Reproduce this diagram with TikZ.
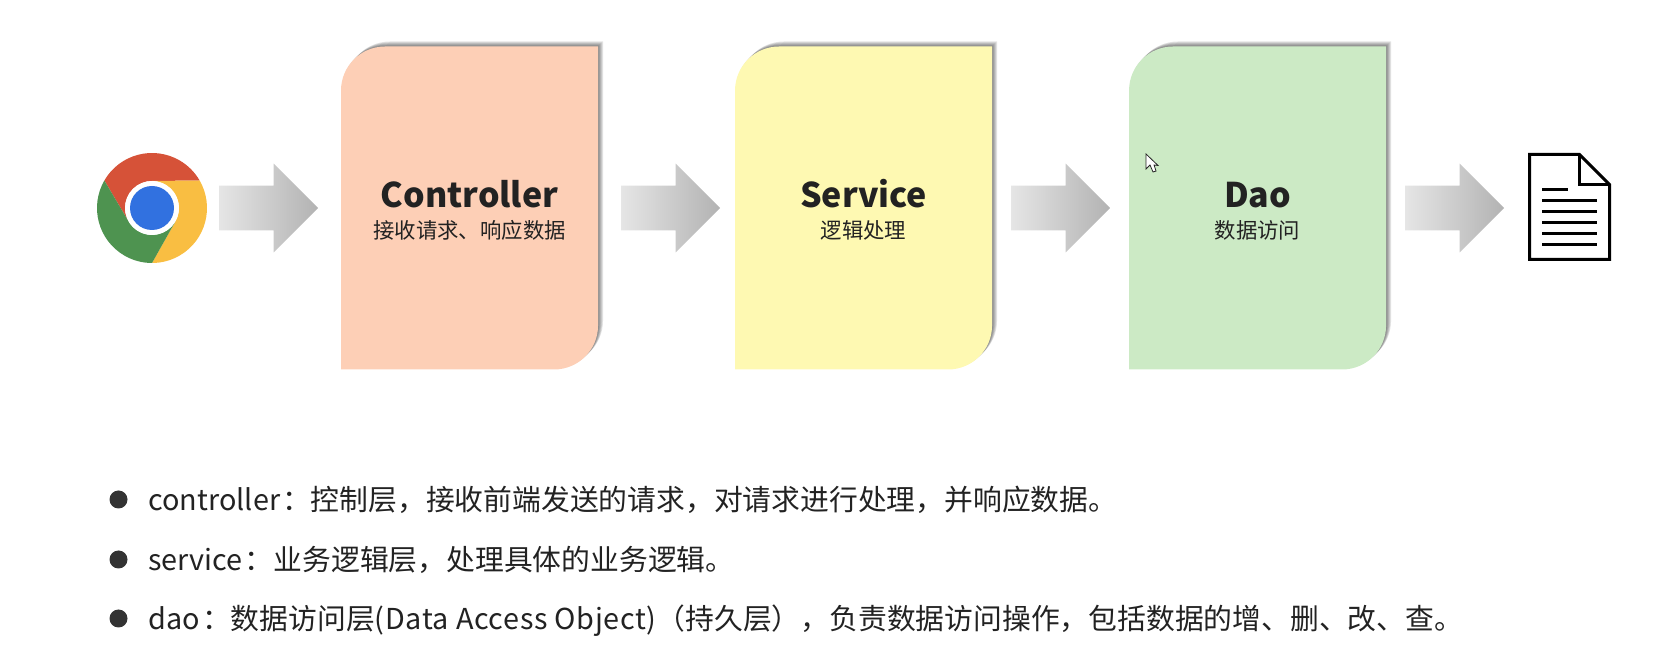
\documentclass[tikz,border=0pt]{standalone}
\usepackage{fontspec}
\setmainfont{Noto Sans CJK SC}
\usepackage{xcolor}
\usepackage{tikz}
\usetikzlibrary{shapes.arrows, positioning, calc, backgrounds}
\definecolor{ctrlfill}{RGB}{253, 207, 182}
\definecolor{servfill}{RGB}{254, 249, 178}
\definecolor{daofill}{RGB}{204, 234, 197}
\definecolor{inktext}{RGB}{34, 34, 34}
\definecolor{chromered}{RGB}{214, 82, 56}
\definecolor{chromeyellow}{RGB}{249, 190, 66}
\definecolor{chromegreen}{RGB}{78, 147, 80}
\definecolor{chromeblue}{RGB}{49, 113, 224}
\tikzset{
    layerbox/.style = {rectangle, minimum width=128.5pt, minimum height=161.5pt, inner sep=0pt, outer sep=0pt},
    blockarrow/.style = {single arrow, single arrow tip angle=90, single arrow head extend=11pt, single arrow head indent=0pt, minimum height=49.5pt, inner xsep=0pt, inner ysep=11pt, outer sep=0pt, left color=black!10, right color=black!30, draw=none},
    bulletdot/.style = {circle, fill=black!80, minimum size=9pt, inner sep=0pt, outer sep=0pt},
    bullettext/.style = {font=\fontsize{14.4pt}{17pt}\selectfont, text=inktext, inner sep=0pt, outer sep=0pt, text height=11pt, text depth=3pt, yshift=-1.5pt},
    docline/.style = {line width=1.1pt, line cap=butt},
    title/.style = {font=\fontsize{17pt}{20pt}\selectfont\bfseries, text=inktext, anchor=base, inner sep=0pt},
    subtitle/.style = {font=\fontsize{10.7pt}{13pt}\selectfont, text=inktext, anchor=base, inner sep=0pt}
}
% shape of a layer box, round at two corners only
\newcommand{\layerpath}[1]{(#1.south west) [rounded corners=22pt] -- (#1.north west) [sharp corners] -- (#1.north east) [rounded corners=22pt] -- (#1.south east) [sharp corners] -- cycle}
\newcommand{\layerback}[2]{
  \begin{scope}[on background layer]
    \foreach \s in {5,4,3,2,1}
      \fill[black, opacity=0.11, transform canvas={xshift=\s*0.5pt, yshift=\s*0.5pt}] \layerpath{#1};
    \fill[#2] \layerpath{#1};
  \end{scope}
}
\newcommand{\widelatin}[1]{{\addfontfeature{LetterSpace=2.2}#1}}
\begin{document}
\begin{tikzpicture}[x=0.5pt, y=0.5pt]
\useasboundingbox (0,0) rectangle (1659,658);

% browser logo
\node (chrome) [circle, minimum size=55pt, inner sep=0pt, outer sep=0pt] at (152,450) {};
\fill[chromered] ($(chrome)+(150:55)$) arc (150:30:55) -- ($(chrome)+(90:27)$) arc (90:210:27) -- cycle;
\fill[chromeyellow] ($(chrome)+(30:55)$) arc (30:-90:55) -- ($(chrome)+(-30:27)$) arc (-30:90:27) -- cycle;
\fill[chromegreen] ($(chrome)+(150:55)$) arc (150:270:55) -- ($(chrome)+(-30:27)$) arc (-30:-150:27) -- cycle;
\fill[white] (chrome) circle (27);
\fill[chromeblue] (chrome) circle (22);

% layers
\node (arrowa) [blockarrow, right=6pt of chrome] {};
\node (ctrl) [layerbox, right=11.5pt of arrowa] {};
\node (arrowb) [blockarrow, right=11.5pt of ctrl] {};
\node (serv) [layerbox, right=7.5pt of arrowb] {};
\node (arrowc) [blockarrow, right=9.5pt of serv] {};
\node (dao) [layerbox, right=9.5pt of arrowc] {};
\node (arrowd) [blockarrow, right=9.5pt of dao] {};
\layerback{ctrl}{ctrlfill}
\layerback{serv}{servfill}
\layerback{dao}{daofill}

\node (ctrltitle) [title] at ($(ctrl.center)+(0,0.5)$) {Controller};
\node (ctrlsub) [subtitle] at ($(ctrl.center)+(0,-31)$) {接收请求、响应数据};
\node (servtitle) [title] at ($(serv.center)+(0,0.5)$) {Service};
\node (servsub) [subtitle] at ($(serv.center)+(0,-31)$) {逻辑处理};
\node (daotitle) [title] at ($(dao.center)+(0,0.5)$) {Dao};
\node (daosub) [subtitle] at ($(dao.center)+(0,-31)$) {数据访问};

% data file
\node (doc) [rectangle, minimum width=40pt, minimum height=52.5pt, inner sep=0pt, outer sep=0pt, right=12.75pt of arrowd, yshift=0.5pt] {};
\draw[line width=1.5pt, line join=miter] (doc.south west) -- (doc.north west) -- ($(doc.north east)+(-30,0)$) -- ($(doc.north east)+(0,-30)$) -- (doc.south east) -- cycle;
\draw[line width=1.5pt] ($(doc.north east)+(-30,0)$) -- ($(doc.north east)+(-30,-30)$) -- ($(doc.north east)+(0,-30)$);
\draw[docline] (1542,468.5) -- (1568,468.5);
\foreach \ypos in {457.5,446.5,435.5,424.5,413.5}
  \draw[docline] (1542,\ypos) -- (1597,\ypos);

% pointer
\draw[black!85, line width=0.4pt, fill=white] (1146,504) -- (1146,489) -- (1150,493) -- (1153,486) -- (1156,487) -- (1154,493) -- (1158,492.5) -- cycle;

% notes
\node (dota) [bulletdot] at (118.5,158.5) {};
\node (dotb) [bulletdot, below=21pt of dota] {};
\node (dotc) [bulletdot, below=20.5pt of dotb] {};
\node (notea) [bullettext, right=10.5pt of dota] {controller\kern1pt：控制层，接收前端发送的请求，对请求进行处理，并响应数据。};
\node (noteb) [bullettext, right=10.5pt of dotb] {service\kern1pt：业务逻辑层，处理具体的业务逻辑。};
\node (notec) [bullettext, right=10.5pt of dotc] {dao\kern1pt：数据访问层\widelatin{(Data Access Object)}（持久层），负责数据访问操作，包括数据的增、删、改、查。};
\end{tikzpicture}
\end{document}
